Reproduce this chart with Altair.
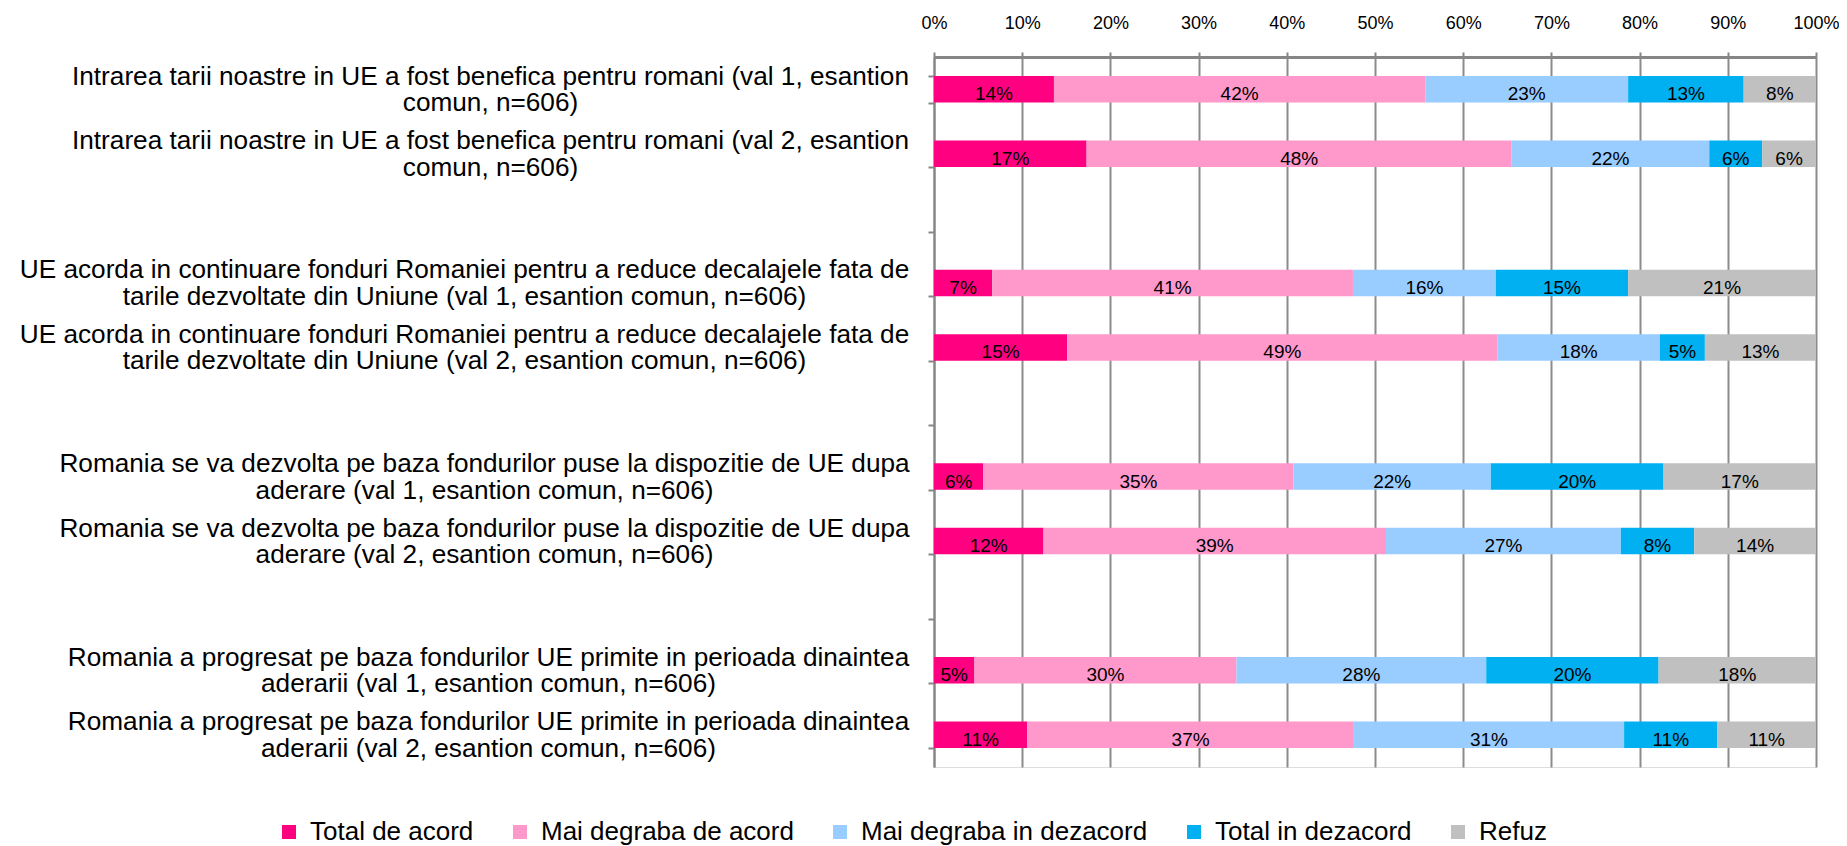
import altair as alt

categories = [
    "Intrarea tarii noastre in UE a fost benefica pentru romani (val 1, esantion\ncomun, n=606)",
    "Intrarea tarii noastre in UE a fost benefica pentru romani (val 2, esantion\ncomun, n=606)",
    "UE acorda in continuare fonduri Romaniei pentru a reduce decalajele fata de\ntarile dezvoltate din Uniune (val 1, esantion comun, n=606)",
    "UE acorda in continuare fonduri Romaniei pentru a reduce decalajele fata de\ntarile dezvoltate din Uniune (val 2, esantion comun, n=606)",
    "Romania se va dezvolta pe baza fondurilor puse la dispozitie de UE dupa\naderare (val 1, esantion comun, n=606)",
    "Romania se va dezvolta pe baza fondurilor puse la dispozitie de UE dupa\naderare (val 2, esantion comun, n=606)",
    "Romania a progresat pe baza fondurilor UE primite in perioada dinaintea\naderarii (val 1, esantion comun, n=606)",
    "Romania a progresat pe baza fondurilor UE primite in perioada dinaintea\naderarii (val 2, esantion comun, n=606)",
]
# row order on the axis, with empty spacer rows between the groups
y_domain = [categories[0], categories[1], " ",
            categories[2], categories[3], "  ",
            categories[4], categories[5], "   ",
            categories[6], categories[7]]

series = ["Total de acord", "Mai degraba de acord", "Mai degraba in dezacord",
          "Total in dezacord", "Refuz"]
colors = ["#FF0080", "#FF99CC", "#99CCFF", "#00B0F0", "#C0C0C0"]

total_acord = [13.6, 17.3, 6.6, 15.1, 5.6, 12.4, 4.6, 10.6]
mai_acord = [42.1, 48.2, 40.9, 48.8, 35.2, 38.8, 29.8, 37.1]
mai_dezacord = [23.0, 22.4, 16.2, 18.4, 22.4, 26.6, 28.4, 30.7]
total_dezacord = [13.1, 6.0, 15.0, 5.1, 19.6, 8.3, 19.6, 10.6]
refuz = [8.2, 6.1, 21.3, 12.6, 17.3, 13.8, 17.9, 11.2]
values = [total_acord, mai_acord, mai_dezacord, total_dezacord, refuz]

x_ticks = [0, 0.1, 0.2, 0.3, 0.4, 0.5, 0.6, 0.7, 0.8, 0.9, 1.0]

records = []
for i, c in enumerate(categories):
    for j, s in enumerate(series):
        records.append({"cat": c, "series": s, "rank": j, "value": values[j][i]})
data = alt.Data(values=records)

FONT = "Liberation Sans"
GRAY = "#868686"

x_scale = alt.Scale(domain=[0, 1], nice=False, zero=True)
y_scale = alt.Scale(domain=y_domain, paddingInner=0.59, paddingOuter=0.295)

# centre each two-line label under the right end of its first line
pad_expr = ("(isString(datum.value) && datum.value[0] == 'U') ? 464 : "
            "(isString(datum.value) && datum.value[0] == 'R' && datum.value[8] == 's') ? 444 : "
            "(isString(datum.value) && datum.value[0] == 'R') ? 440 : 438")

x_axis = alt.Axis(orient="top", values=x_ticks, format=".0%", title=None,
                  grid=True, gridColor="#8c8c8c", gridWidth=2,
                  domainColor=GRAY, domainWidth=3,
                  tickColor=GRAY, tickWidth=2, tickSize=5,
                  labelFont=FONT, labelFontSize=18, labelColor="#000000",
                  labelBaseline="alphabetic", labelPadding=24, labelFlush=False)

y_axis = alt.Axis(title=None, grid=False, domainColor=GRAY, domainWidth=2,
                  ticks=True, tickSize=6, tickColor=GRAY, tickWidth=2,
                  tickBand="extent",
                  labelFont=FONT, labelFontSize=26.2, labelColor="#000000",
                  labelLineHeight=26.5, labelAlign="center", labelBaseline="middle",
                  labelLimit=2000, labelPadding={"expr": pad_expr},
                  labelOffset=-13,
                  labelExpr="split(datum.label, '\\n')")

bars = alt.Chart(data).mark_bar().encode(
    x=alt.X("value:Q", stack="normalize", scale=x_scale, axis=x_axis),
    y=alt.Y("cat:N", scale=y_scale, axis=y_axis),
    color=alt.Color("series:N",
                    scale=alt.Scale(domain=series, range=colors),
                    sort=series,
                    legend=alt.Legend(orient="none", legendX=-658, legendY=762,
                                      direction="horizontal", columns=5,
                                      title=None, symbolType="square",
                                      symbolSize=196, symbolStrokeWidth=0,
                                      labelFont=FONT, labelFontSize=26,
                                      labelColor="#000000", labelOffset=8,
                                      columnPadding=33, padding=0,
                                      labelLimit=1000)),
    order=alt.Order("rank:Q", sort="ascending"),
)

texts = alt.Chart(data).transform_stack(
    stack="value", groupby=["cat"], as_=["v0", "v1"],
    sort=[alt.SortField("rank", order="ascending")]
).transform_joinaggregate(
    total="sum(value)", groupby=["cat"]
).transform_calculate(
    mid="(datum.v0 + datum.v1) / 2 / datum.total",
    pct="format(datum.value, '.0f') + '%'"
).mark_text(font=FONT, fontSize=19, color="#000000",
            baseline="alphabetic", dy=11).encode(
    x=alt.X("mid:Q", scale=x_scale),
    y=alt.Y("cat:N", scale=y_scale),
    text="pct:N",
)

chart = alt.layer(bars, texts).properties(
    width=882, height=710,
    autosize=alt.AutoSizeParams(type="none"),
    padding={"left": 926, "top": 49, "right": 23, "bottom": 79},
).configure_view(stroke=None).configure(background="#ffffff")

chart.save("out.html", embed_options={"renderer": "svg", "actions": False})
